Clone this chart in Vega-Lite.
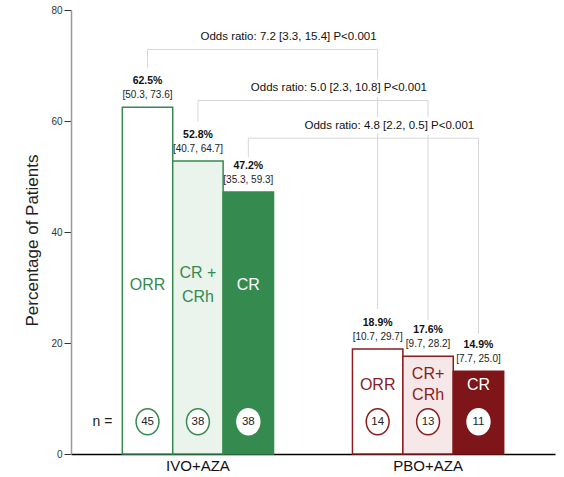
{
  "$schema": "https://vega.github.io/schema/vega-lite/v6.json",
  "width": 484,
  "height": 444,
  "autosize": {"type": "none"},
  "padding": {"left": 71, "top": 10, "right": 9, "bottom": 23},
  "config": {
    "view": {"stroke": null},
    "font": "Liberation Sans, Arial, sans-serif"
  },
  "datasets": {
    "bars": [
      {"group": "IVO+AZA", "measure": "ORR", "key": "IVO ORR", "pct": 62.5, "ci": "[50.3, 73.6]", "n": 45, "label": "ORR"},
      {"group": "IVO+AZA", "measure": "CR+CRh", "key": "IVO CRh", "pct": 52.8, "ci": "[40.7, 64.7]", "n": 38, "label": "CR +\nCRh"},
      {"group": "IVO+AZA", "measure": "CR", "key": "IVO CR", "pct": 47.2, "ci": "[35.3, 59.3]", "n": 38, "label": "CR"},
      {"group": "PBO+AZA", "measure": "ORR", "key": "PBO ORR", "pct": 18.9, "ci": "[10.7, 29.7]", "n": 14, "label": "ORR"},
      {"group": "PBO+AZA", "measure": "CR+CRh", "key": "PBO CRh", "pct": 17.6, "ci": "[9.7, 28.2]", "n": 13, "label": "CR+\nCRh"},
      {"group": "PBO+AZA", "measure": "CR", "key": "PBO CR", "pct": 14.9, "ci": "[7.7, 25.0]", "n": 11, "label": "CR"}
    ],
    "brackets": [
      {"br": "b1", "pt": 1, "group": "IVO+AZA", "measure": "ORR", "y": 69.6},
      {"br": "b1", "pt": 2, "group": "IVO+AZA", "measure": "ORR", "y": 72.9},
      {"br": "b1", "pt": 3, "group": "PBO+AZA", "measure": "ORR", "y": 72.9},
      {"br": "b1", "pt": 4, "group": "PBO+AZA", "measure": "ORR", "y": 26.1},
      {"br": "b2", "pt": 1, "group": "IVO+AZA", "measure": "CR+CRh", "y": 59.9},
      {"br": "b2", "pt": 2, "group": "IVO+AZA", "measure": "CR+CRh", "y": 63.7},
      {"br": "b2", "pt": 3, "group": "PBO+AZA", "measure": "CR+CRh", "y": 63.7},
      {"br": "b2", "pt": 4, "group": "PBO+AZA", "measure": "CR+CRh", "y": 24.1},
      {"br": "b3", "pt": 1, "group": "IVO+AZA", "measure": "CR", "y": 53.5},
      {"br": "b3", "pt": 2, "group": "IVO+AZA", "measure": "CR", "y": 56.9},
      {"br": "b3", "pt": 3, "group": "PBO+AZA", "measure": "CR", "y": 56.9},
      {"br": "b3", "pt": 4, "group": "PBO+AZA", "measure": "CR", "y": 21.6}
    ],
    "notes": [
      {"group": "IVO+AZA", "measure": "ORR", "y": 72.9, "text": "Odds ratio: 7.2 [3.3, 15.4] P<0.001"},
      {"group": "IVO+AZA", "measure": "CR+CRh", "y": 63.7, "text": "Odds ratio: 5.0 [2.3, 10.8] P<0.001"},
      {"group": "IVO+AZA", "measure": "CR", "y": 56.9, "text": "Odds ratio: 4.8 [2.2, 0.5] P<0.001"}
    ]
  },
  "encoding": {
    "x": {
      "field": "group", "type": "nominal",
      "scale": {"domain": ["IVO+AZA", "PBO+AZA"], "paddingInner": 0.343, "paddingOuter": 0.223},
      "axis": {"title": null, "ticks": false, "labelAngle": 0, "labelFontSize": 15, "labelColor": "#111", "domainColor": "#000", "domainWidth": 1.5, "labelPadding": 4}
    },
    "xOffset": {
      "field": "measure", "type": "nominal",
      "scale": {"domain": ["ORR", "CR+CRh", "CR"], "paddingInner": 0, "paddingOuter": 0}
    }
  },
  "layer": [
    {
      "data": {"name": "brackets"},
      "mark": {"type": "line", "color": "#d6d6d6", "strokeWidth": 1},
      "encoding": {
        "y": {"field": "y", "type": "quantitative", "scale": {"domain": [0, 80], "nice": false},
          "axis": {"values": [0, 20, 40, 60, 80], "grid": false, "title": "Percentage of Patients",
            "titleFont": "Liberation Sans, Arial, sans-serif", "titleFontSize": 17, "titleFontWeight": "normal", "titleColor": "#222",
            "titleX": -39, "titleY": 230, "titleAngle": -90, "titleBaseline": "middle", "titleAlign": "center",
            "labelFontSize": 10, "labelColor": "#333", "tickSize": 7, "tickColor": "#333", "domainColor": "#9a9a9a", "domainWidth": 1.5, "labelPadding": 2}},
        "detail": {"field": "br"},
        "order": {"field": "pt", "type": "quantitative"}
      }
    },
    {
      "data": {"name": "bars"},
      "mark": {"type": "bar", "strokeWidth": 1.5},
      "encoding": {
        "y": {"field": "pct", "type": "quantitative", "title": "Percentage of Patients"},
        "fill": {"field": "key", "type": "nominal", "legend": null,
          "scale": {"domain": ["IVO ORR", "IVO CRh", "IVO CR", "PBO ORR", "PBO CRh", "PBO CR"],
            "range": ["#ffffff", "#eaf3ec", "#358a50", "#ffffff", "#f6e8e8", "#7e1518"]}},
        "stroke": {"field": "key", "type": "nominal", "legend": null,
          "scale": {"domain": ["IVO ORR", "IVO CRh", "IVO CR", "PBO ORR", "PBO CRh", "PBO CR"],
            "range": ["#358a50", "#358a50", "#358a50", "#8a1c1f", "#8a1c1f", "#7e1518"]}}
      }
    },
    {
      "data": {"name": "bars"},
      "transform": [{"calculate": "format(datum.pct, '.1f') + '%'", "as": "pctLabel"}],
      "mark": {"type": "text", "fontWeight": "bold", "fontSize": 10.5, "dy": -26, "baseline": "middle", "color": "#111"},
      "encoding": {
        "y": {"field": "pct", "type": "quantitative", "title": "Percentage of Patients"},
        "text": {"field": "pctLabel"}
      }
    },
    {
      "data": {"name": "bars"},
      "mark": {"type": "text", "fontSize": 10, "dy": -12, "baseline": "middle", "color": "#222"},
      "encoding": {
        "y": {"field": "pct", "type": "quantitative", "title": "Percentage of Patients"},
        "text": {"field": "ci"}
      }
    },
    {
      "data": {"name": "bars"},
      "transform": [{"filter": "datum.group == 'IVO+AZA' && datum.measure != 'CR+CRh'"}],
      "mark": {"type": "text", "fontSize": 16, "baseline": "middle"},
      "encoding": {
        "y": {"datum": 30.5, "type": "quantitative"},
        "text": {"field": "label"},
        "color": {"field": "key", "type": "nominal", "legend": null,
          "scale": {"domain": ["IVO ORR", "IVO CRh", "IVO CR", "PBO ORR", "PBO CRh", "PBO CR"],
            "range": ["#358a50", "#358a50", "#ffffff", "#8a1c1f", "#8a1c1f", "#ffffff"]}}
      }
    },
    {
      "data": {"name": "bars"},
      "transform": [{"filter": "datum.group == 'IVO+AZA' && datum.measure == 'CR+CRh'"}],
      "mark": {"type": "text", "fontSize": 16, "lineHeight": 24, "lineBreak": "\n", "baseline": "middle"},
      "encoding": {
        "y": {"datum": 32.7, "type": "quantitative"},
        "text": {"field": "label"},
        "color": {"field": "key", "type": "nominal", "legend": null}
      }
    },
    {
      "data": {"name": "bars"},
      "transform": [{"filter": "datum.group == 'PBO+AZA' && datum.measure != 'CR+CRh'"}],
      "mark": {"type": "text", "fontSize": 16, "baseline": "middle"},
      "encoding": {
        "y": {"datum": 12.5, "type": "quantitative"},
        "text": {"field": "label"},
        "color": {"field": "key", "type": "nominal", "legend": null}
      }
    },
    {
      "data": {"name": "bars"},
      "transform": [{"filter": "datum.group == 'PBO+AZA' && datum.measure == 'CR+CRh'"}],
      "mark": {"type": "text", "fontSize": 16, "lineHeight": 21, "lineBreak": "\n", "baseline": "middle"},
      "encoding": {
        "y": {"datum": 14.4, "type": "quantitative"},
        "text": {"field": "label"},
        "color": {"field": "key", "type": "nominal", "legend": null}
      }
    },
    {
      "data": {"name": "bars"},
      "mark": {"type": "point", "filled": true, "fill": "#ffffff", "opacity": 1, "strokeWidth": 1.5, "size": 676,
        "shape": "M0,-1A0.88,1,0,1,1,0,1A0.88,1,0,1,1,0,-1Z"},
      "encoding": {
        "y": {"datum": 5.8, "type": "quantitative"},
        "stroke": {"condition": {"test": "datum.measure == 'CR'", "value": "#ffffff"}, "field": "key", "type": "nominal", "legend": null}
      }
    },
    {
      "data": {"name": "bars"},
      "mark": {"type": "text", "fontSize": 11.5, "baseline": "middle", "color": "#222"},
      "encoding": {
        "y": {"datum": 5.8, "type": "quantitative"},
        "text": {"field": "n"}
      }
    },
    {
      "data": {"name": "bars"},
      "transform": [{"filter": "datum.key == 'IVO ORR'"}],
      "mark": {"type": "text", "fontSize": 14, "baseline": "middle", "color": "#222", "dx": -45},
      "encoding": {
        "y": {"datum": 5.8, "type": "quantitative"},
        "text": {"value": "n ="}
      }
    },
    {
      "data": {"name": "notes"},
      "mark": {"type": "text", "fontSize": 11.5, "baseline": "middle", "align": "center", "dx": 141, "dy": -12, "color": "#ffffff", "stroke": "#ffffff", "strokeWidth": 8},
      "encoding": {
        "y": {"field": "y", "type": "quantitative"},
        "text": {"field": "text"}
      }
    },
    {
      "data": {"name": "notes"},
      "mark": {"type": "text", "fontSize": 11.5, "baseline": "middle", "align": "center", "dx": 141, "dy": -12, "color": "#111"},
      "encoding": {
        "y": {"field": "y", "type": "quantitative"},
        "text": {"field": "text"}
      }
    }
  ]
}
